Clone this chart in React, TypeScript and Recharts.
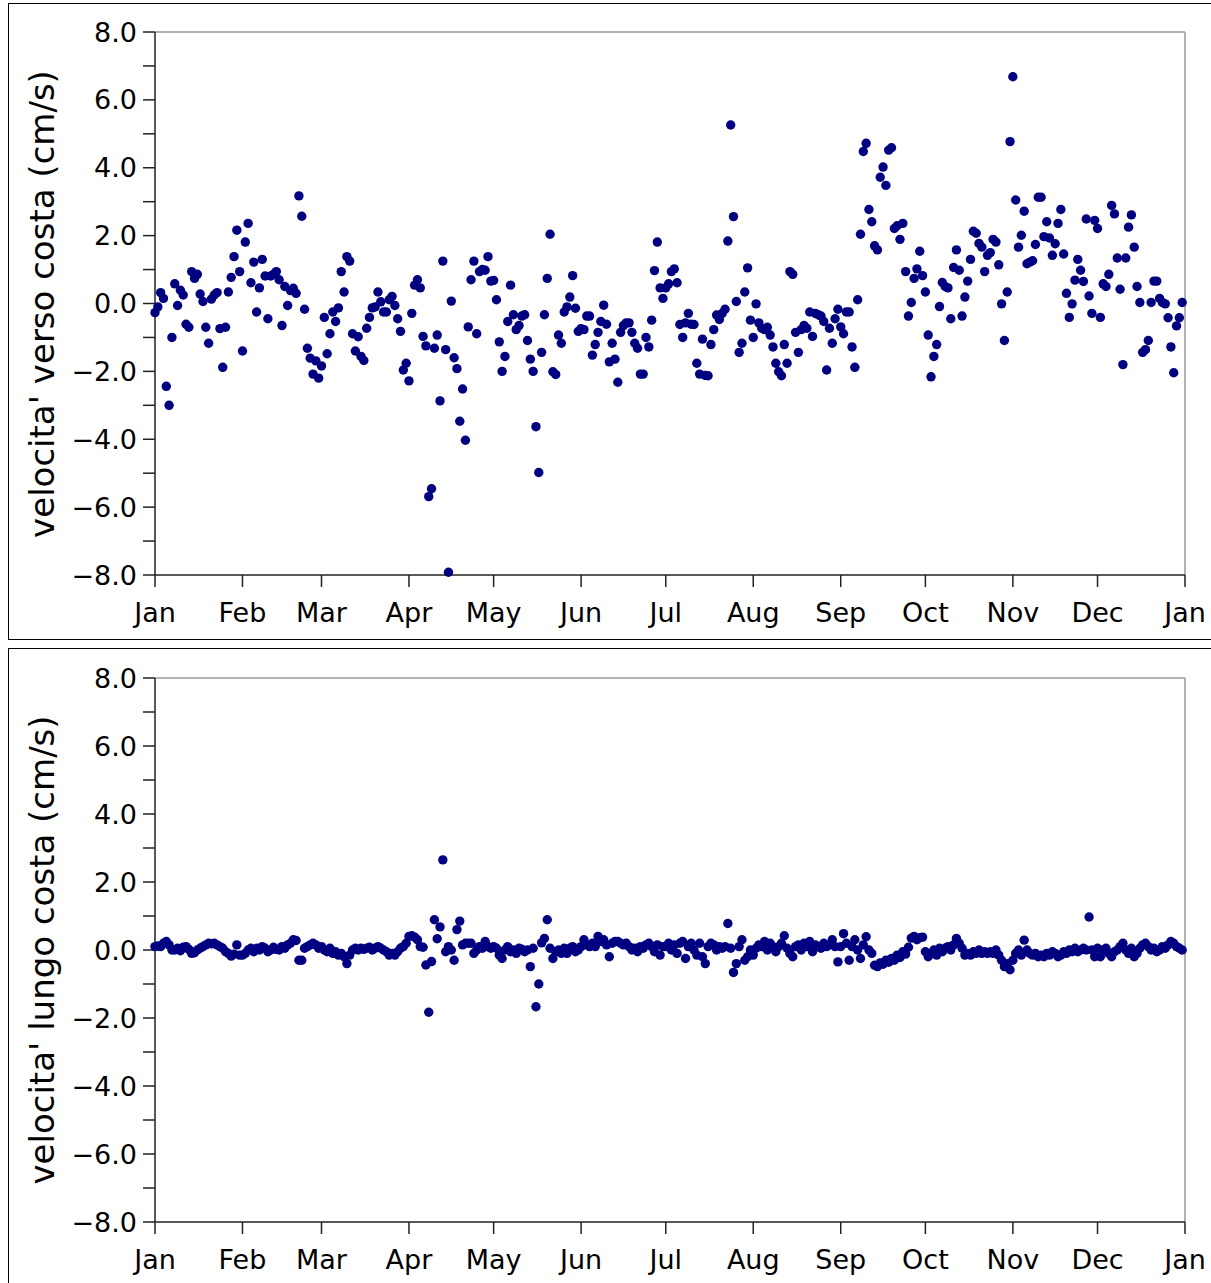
import { ScatterChart, Scatter, XAxis, YAxis, ReferenceLine } from "recharts";

// month axis
const MONTHS = ["Jan", "Feb", "Mar", "Apr", "May", "Jun", "Jul", "Aug", "Sep", "Oct", "Nov", "Dec", "Jan"];
const MONTH_START = [0, 31, 59, 90, 120, 151, 181, 212, 243, 273, 304, 334, 365];
const Y_TICKS = [-8, -7, -6, -5, -4, -3, -2, -1, 0, 1, 2, 3, 4, 5, 6, 7, 8];

// velocita' verso costa (cm/s), one value per day
const versoJan = [-0.27, -0.1, 0.32, 0.15, -2.44, -3.0, -1.0, 0.58, -0.06, 0.39, 0.25, -0.61, -0.7, 0.94, 0.74, 0.86, 0.28, 0.06, -0.7, -1.17, 0.13, 0.25, 0.32, -0.74, -1.88, -0.7, 0.34, 0.77, 1.38, 2.16, 0.94];
const versoFeb = [-1.4, 1.81, 2.36, 0.61, 1.22, -0.25, 0.46, 1.3, 0.81, -0.45, 0.81, 0.86, 0.94, 0.7, -0.65, 0.5, -0.06, 0.38, 0.45, 0.3, 3.17, 2.57, -0.17, -1.32, -1.61, -2.08, -1.69, -2.2];
const versoMar = [-1.84, -0.41, -1.48, -0.89, -0.25, -0.53, -0.13, 0.94, 0.34, 1.38, 1.25, -0.89, -1.4, -0.98, -1.56, -1.68, -0.73, -0.41, -0.13, -0.1, 0.34, 0.05, -0.25, -0.25, 0.11, 0.21, -0.06, -0.45, -0.82, -1.96, -1.76];
const versoApr = [-2.28, -0.29, 0.54, 0.7, 0.46, -0.97, -1.25, -5.69, -5.46, -1.32, -0.93, -2.87, 1.25, -1.36, -7.92, 0.07, -1.6, -1.92, -3.47, -2.52, -4.03, -0.69, 0.7, 1.25, -0.89, 0.94, 1.0, 0.98, 1.38, 0.66];
const versoMay = [0.68, 0.11, -1.13, -2.0, -1.56, -0.53, 0.54, -0.33, -0.77, -0.65, -0.37, -0.33, -1.09, -1.64, -2.0, -3.63, -4.98, -1.44, -0.33, 0.74, 2.04, -2.01, -2.09, -0.93, -1.17, -0.25, -0.1, 0.19, 0.82, -0.14, -0.82];
const versoJun = [-0.74, -0.77, -0.37, -0.37, -1.52, -1.21, -0.85, -0.53, -0.05, -0.61, -1.72, -1.17, -1.64, -2.32, -0.85, -0.65, -0.57, -0.57, -0.85, -1.17, -1.32, -2.08, -2.08, -1.0, -1.28, -0.49, 0.97, 1.81, 0.46, 0.15];
const versoJul = [0.46, 0.58, 0.94, 1.02, 0.61, -0.62, -1.0, -0.57, -0.29, -0.61, -0.62, -1.76, -2.08, -1.05, -2.12, -2.13, -1.21, -0.77, -0.34, -0.47, -0.29, -0.17, 1.84, 5.26, 2.56, 0.06, -1.44, -1.17, 0.34, 1.05, -0.49];
const versoAug = [-1.0, -0.01, -0.57, -0.73, -0.77, -0.7, -0.93, -1.28, -1.76, -2.01, -2.13, -1.21, -1.76, 0.94, 0.86, -0.85, -1.44, -0.77, -0.65, -0.73, -0.25, -0.97, -0.29, -0.33, -0.37, -0.53, -1.96, -0.73, -1.17, -0.45, -0.17];
const versoSep = [-0.69, -0.89, -0.25, -0.25, -1.28, -1.88, 0.11, 2.04, 4.48, 4.72, 2.77, 2.41, 1.7, 1.58, 3.72, 4.02, 3.48, 4.52, 4.59, 2.21, 2.29, 1.89, 2.36, 0.94, -0.37, 0.03, 0.74, 1.02, 1.54, 0.82];
const versoOct = [0.34, -0.93, -2.16, -1.56, -1.21, -0.09, 0.62, 0.5, 0.46, -0.45, 1.06, 1.58, 0.98, -0.37, 0.19, 0.66, 1.3, 2.13, 2.07, 1.77, 1.66, 0.94, 1.42, 1.5, 1.89, 1.81, 1.14, -0.01, -1.09, 0.34, 4.77];
const versoNov = [6.68, 3.05, 1.66, 2.01, 2.72, 1.17, 1.22, 1.26, 1.74, 3.13, 3.13, 1.97, 2.41, 1.93, 1.42, 1.76, 2.36, 2.77, 1.46, 0.3, -0.41, -0.01, 0.69, 1.3, 0.98, 0.65, 2.49, 0.22, -0.29, 2.45];
const versoDec = [2.21, -0.41, 0.58, 0.5, 0.86, 2.89, 2.64, 1.34, 0.42, -1.8, 1.34, 2.25, 2.61, 1.66, 0.5, 0.03, -1.44, -1.36, -1.09, 0.03, 0.66, 0.66, 0.15, 0.03, -0.01, -0.42, -1.28, -2.04, -0.66, -0.42, 0.03];

// velocita' lungo costa (cm/s), one value per day
const lungoJan = [0.1, 0.12, 0.1, 0.2, 0.25, 0.15, 0.0, 0.0, 0.05, -0.02, 0.08, 0.1, 0.02, -0.1, -0.08, 0.0, 0.05, 0.1, 0.15, 0.2, 0.18, 0.2, 0.15, 0.1, 0.05, -0.05, -0.1, -0.18, -0.12, 0.15, -0.15];
const lungoFeb = [-0.15, -0.1, 0.0, 0.05, -0.05, 0.05, 0.0, 0.1, 0.05, -0.05, 0.0, 0.08, 0.02, 0.0, 0.1, 0.05, 0.15, 0.2, 0.3, 0.28, -0.3, -0.3, 0.05, 0.1, 0.15, 0.2, 0.15, 0.05];
const lungoMar = [0.1, 0.0, -0.05, 0.05, -0.1, -0.05, -0.15, -0.1, -0.2, -0.4, -0.15, 0.0, 0.05, 0.0, 0.05, 0.02, 0.05, 0.08, 0.0, 0.05, 0.1, 0.05, 0.0, -0.05, -0.15, -0.1, -0.15, -0.05, 0.05, 0.1, 0.2];
const lungoApr = [0.4, 0.42, 0.38, 0.3, 0.1, 0.08, -0.44, -1.83, -0.34, 0.89, 0.33, 0.68, 2.65, -0.05, 0.1, 0.0, -0.3, 0.6, 0.85, 0.15, 0.2, 0.2, 0.2, -0.1, 0.0, 0.1, 0.05, 0.25, 0.1, 0.05];
const lungoMay = [0.1, 0.05, -0.15, -0.25, 0.0, 0.1, -0.05, 0.0, -0.1, 0.05, 0.02, -0.05, 0.0, -0.49, 0.05, -1.67, -1.0, 0.21, 0.34, 0.89, 0.05, -0.25, -0.05, 0.0, -0.1, 0.05, -0.1, 0.05, 0.1, -0.05, 0.0];
const lungoJun = [0.1, 0.3, 0.15, 0.1, 0.2, 0.1, 0.4, 0.25, 0.3, 0.15, -0.2, 0.2, 0.25, 0.25, 0.2, 0.15, 0.2, 0.1, 0.0, 0.05, -0.05, 0.1, 0.05, 0.15, 0.2, 0.1, -0.05, 0.15, -0.15, 0.1];
const lungoJul = [0.1, 0.2, 0.0, 0.15, -0.1, 0.2, 0.25, -0.25, 0.1, 0.2, 0.0, -0.15, 0.2, -0.2, -0.4, 0.1, 0.2, 0.15, 0.0, 0.1, 0.05, 0.1, 0.78, 0.05, -0.66, -0.4, 0.1, 0.3, -0.3, -0.2, 0.0];
const lungoAug = [-0.15, 0.05, 0.15, 0.1, 0.25, 0.0, 0.2, 0.1, -0.05, 0.1, 0.2, 0.42, 0.05, -0.1, -0.2, 0.1, 0.15, 0.0, 0.2, 0.1, 0.25, -0.05, 0.15, 0.1, 0.05, 0.2, 0.1, 0.15, 0.3, 0.1, -0.35];
const lungoSep = [0.1, 0.48, 0.2, -0.3, 0.1, 0.3, 0.0, -0.25, 0.15, 0.39, 0.0, -0.1, -0.45, -0.49, -0.38, -0.42, -0.3, -0.36, -0.25, -0.3, -0.15, -0.22, -0.05, -0.12, 0.08, 0.35, 0.4, 0.3, 0.36, 0.38];
const lungoOct = [-0.05, -0.2, -0.1, 0.0, -0.15, 0.05, -0.05, 0.05, 0.1, 0.0, 0.15, 0.34, 0.2, 0.05, -0.15, -0.1, -0.15, -0.05, -0.1, 0.0, -0.1, -0.05, -0.1, -0.05, -0.1, 0.0, -0.15, -0.3, -0.49, -0.4, -0.58];
const lungoNov = [-0.3, -0.1, 0.0, -0.15, 0.29, 0.0, -0.1, -0.15, -0.1, -0.2, -0.15, -0.2, -0.1, -0.15, -0.05, -0.1, -0.2, -0.15, -0.05, -0.1, 0.0, -0.05, 0.05, -0.05, 0.0, 0.05, 0.0, 0.97, 0.0, -0.2];
const lungoDec = [0.05, -0.2, 0.0, 0.05, -0.1, -0.2, -0.05, 0.0, 0.1, 0.2, 0.0, -0.1, 0.05, -0.2, -0.1, 0.05, 0.15, 0.2, 0.1, 0.0, 0.05, -0.05, 0.0, 0.1, 0.05, 0.15, 0.25, 0.2, 0.1, 0.05, 0.0];

const versoMonths = [versoJan, versoFeb, versoMar, versoApr, versoMay, versoJun, versoJul, versoAug, versoSep, versoOct, versoNov, versoDec];
const lungoMonths = [lungoJan, lungoFeb, lungoMar, lungoApr, lungoMay, lungoJun, lungoJul, lungoAug, lungoSep, lungoOct, lungoNov, lungoDec];

const toPoints = (months: number[][]) =>
  months.flatMap((vals, m) => vals.map((v, i) => ({ day: MONTH_START[m] + i, v })));

const FONT = "'DejaVu Sans', sans-serif";
const AXIS = "#222";
const DOT = "#000080";

const fmtY = (v: number) => {
  if (v % 2 !== 0) return "";
  const s = Math.abs(v).toFixed(1);
  return v < 0 ? "\u2212" + s : s;
};

const Dot = (props: any) => <circle cx={props.cx} cy={props.cy} r={4.7} fill={DOT} />;

const Panel = ({ top, height, title, data }: { top: number; height: number; title: string; data: { day: number; v: number }[] }) => (
  <div style={{ position: "absolute", left: 0, top, width: 1211, height }}>
    <ScatterChart width={1211} height={height} margin={{ top: 32, right: 26, bottom: 0, left: 0 }}>
      <XAxis
        type="number"
        dataKey="day"
        domain={[0, 365]}
        ticks={MONTH_START}
        interval={0}
        tickFormatter={(d) => MONTHS[MONTH_START.indexOf(d)]}
        height={65}
        tickSize={12}
        tickMargin={16}
        stroke={AXIS}
        strokeWidth={1.5}
        tick={{ fill: "#000", fontSize: 27, fontFamily: FONT }}
      />
      <YAxis
        type="number"
        dataKey="v"
        domain={[-8, 8]}
        ticks={Y_TICKS}
        interval={0}
        tickFormatter={fmtY}
        width={155}
        tickSize={12}
        tickMargin={6}
        stroke={AXIS}
        strokeWidth={1.5}
        tick={{ fill: "#000", fontSize: 27, fontFamily: FONT }}
      />
      <ReferenceLine y={8} stroke="#999" strokeWidth={1.5} />
      <ReferenceLine x={365} stroke="#999" strokeWidth={1.5} />
      <Scatter data={data} fill={DOT} shape={Dot} isAnimationActive={false} />
    </ScatterChart>
    <div
      style={{
        position: "absolute",
        left: 42 - 300,
        top: 32 + (height - 97) / 2 - 17,
        width: 600,
        height: 34,
        lineHeight: "34px",
        textAlign: "center",
        fontSize: 34,
        fontFamily: FONT,
        color: "#000",
        transform: "rotate(-90deg)",
        whiteSpace: "nowrap",
      }}
    >
      {title}
    </div>
  </div>
);

export default function App() {
  const verso = toPoints(versoMonths);
  const lungo = toPoints(lungoMonths);
  return (
    <div style={{ position: "absolute", left: 0, top: 0, width: 1211, height: 1283, overflow: "hidden", background: "#fff" }}>
      <div style={{ position: "absolute", left: 8, top: 3, width: 1220, height: 637, border: "1.5px solid #000", boxSizing: "border-box" }} />
      <div style={{ position: "absolute", left: 8, top: 648, width: 1220, height: 660, border: "1.5px solid #000", boxSizing: "border-box" }} />
      <Panel top={0} height={640} title="velocita' verso costa (cm/s)" data={verso} />
      <Panel top={646} height={641} title="velocita' lungo costa (cm/s)" data={lungo} />
    </div>
  );
}
